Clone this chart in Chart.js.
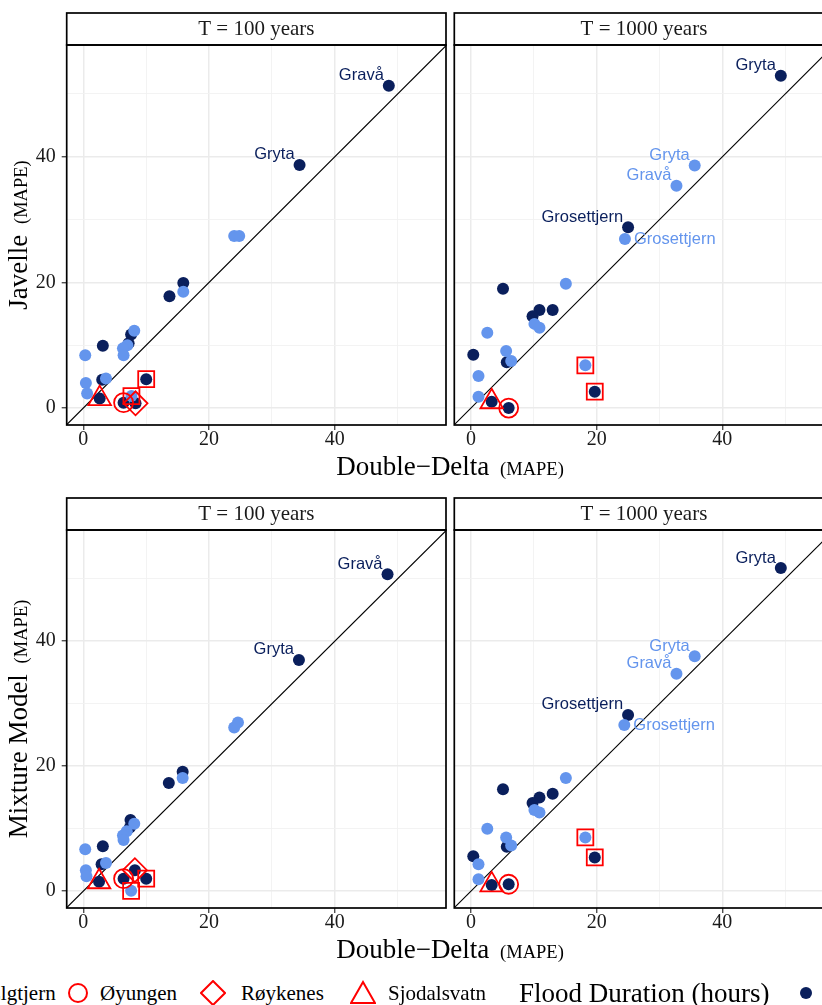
<!DOCTYPE html>
<html>
<head>
<meta charset="utf-8">
<script src="https://cdn.jsdelivr.net/npm/chart.js@4.4.0/dist/chart.umd.min.js"></script>
<style>
  body { margin: 0; width: 822px; height: 1005px; overflow: hidden; background: #fff; position: relative;
         font-family: "Liberation Serif", "Times New Roman", serif; color: #000; }
  canvas { position: absolute; }
  .xtitle { position: absolute; white-space: nowrap; font-size: 27px; line-height: 27px; transform: translateX(-50%); }
  .ytitle { position: absolute; white-space: nowrap; font-size: 27px; line-height: 27px; transform: translate(-50%, -50%) rotate(-90deg); }
  .small { font-size: 18.5px; margin-left: 4px; }
  .leg { position: absolute; white-space: nowrap; font-size: 21px; line-height: 30px; top: 978px; }
  .legsym { position: absolute; }
</style>
</head>
<body>
<canvas id="jav100" width="460" height="480" style="left:0;top:0"></canvas>
<canvas id="jav1000" width="400" height="480" style="left:446px;top:0"></canvas>
<canvas id="mix100" width="460" height="480" style="left:0;top:485px"></canvas>
<canvas id="mix1000" width="400" height="480" style="left:446px;top:485px"></canvas>

<div class="ytitle" style="left:20px;top:235px">Javelle <span class="small">(MAPE)</span></div>
<div class="ytitle" style="left:20px;top:719px">Mixture Model <span class="small">(MAPE)</span></div>
<div class="xtitle" style="left:450px;top:453px">Double−Delta <span class="small">(MAPE)</span></div>
<div class="xtitle" style="left:450px;top:936px">Double−Delta <span class="small">(MAPE)</span></div>
<div id="legend"></div>

<script>
const darkCol = '#0a1f5c';
const lightCol = '#6495ed';
const markRed = '#ff0000';

// x = Double-Delta MAPE, y = other method MAPE
const jav100Dark = [[48.6, 51.3], [34.4, 38.7], [15.9, 19.9], [13.7, 17.8], [7.6, 11.7], [7.2, 10.3],
  [3.1, 9.9], [3.0, 4.5], [2.6, 1.5], [6.4, 0.85], [8.3, 0.75], [10.0, 4.6]];
const jav100Light = [[24.0, 27.4], [24.8, 27.4], [15.9, 18.5], [8.1, 12.3], [7.0, 10.0], [6.3, 9.5],
  [6.4, 8.4], [0.3, 8.4], [0.4, 4.0], [0.6, 2.3], [3.6, 4.7], [7.65, 1.9]];
const jav100DarkNames = ['Gravå', 'Gryta'];
const jav100LightNames = [];

const jav1000Dark = [[49.3, 52.9], [25.0, 28.8], [5.1, 19.0], [10.9, 15.6], [13.0, 15.6], [9.8, 14.6],
  [0.37, 8.5], [5.7, 7.3], [3.3, 1.0], [6.0, 0.0], [19.7, 2.6]];
const jav1000Light = [[35.6, 38.6], [32.7, 35.4], [24.5, 26.9], [15.1, 19.8], [10.1, 13.4], [10.9, 12.8],
  [2.6, 12.0], [5.6, 9.1], [6.4, 7.5], [1.2, 5.1], [1.2, 1.8], [18.2, 6.8]];
const jav1000DarkNames = ['Gryta', 'Grosettjern'];
const jav1000LightNames = ['Gryta', 'Gravå', 'Grosettjern'];

const mix100Dark = [[48.4, 50.7], [34.3, 37.0], [15.8, 19.1], [13.6, 17.3], [7.5, 11.4], [7.4, 10.2],
  [3.1, 7.2], [2.9, 4.3], [2.5, 1.5], [6.4, 2.0], [8.2, 3.35], [10.0, 2.0]];
const mix100Light = [[24.0, 26.2], [24.6, 27.0], [15.8, 18.1], [8.1, 10.8], [6.9, 9.6], [6.3, 8.9],
  [6.4, 8.2], [0.3, 6.7], [0.4, 3.35], [0.5, 2.4], [3.6, 4.5], [7.6, 0.05]];
const mix100DarkNames = ['Gravå', 'Gryta'];
const mix100LightNames = [];

const mix1000Dark = [[49.3, 51.7], [25.0, 28.2], [5.1, 16.3], [10.9, 15.0], [13.0, 15.6], [9.8, 14.1],
  [0.37, 5.6], [5.7, 7.1], [3.3, 1.0], [6.0, 1.1], [19.7, 5.4]];
const mix1000Light = [[35.6, 37.6], [32.7, 34.8], [24.4, 26.6], [15.1, 18.1], [10.1, 13.0], [10.9, 12.6],
  [2.6, 10.0], [5.6, 8.6], [6.4, 7.3], [1.2, 4.3], [1.2, 1.9], [18.2, 8.6]];
const mix1000DarkNames = ['Gryta', 'Grosettjern'];
const mix1000LightNames = ['Gryta', 'Gravå', 'Grosettjern'];

// highlighted stations (red outline shapes)
const jav100Marks = { square: [[10.0, 4.6], [7.65, 1.9]], circle: [[6.4, 0.85]], diamond: [[8.3, 0.75]], triangle: [[2.6, 1.5]] };
const jav1000Marks = { square: [[18.2, 6.8], [19.7, 2.6]], circle: [[6.0, 0.0]], diamond: [], triangle: [[3.3, 1.0]] };
const mix100Marks = { square: [[10.0, 2.0], [7.6, 0.05]], circle: [[6.4, 2.0]], diamond: [[8.2, 3.35]], triangle: [[2.5, 1.5]] };
const mix1000Marks = { square: [[18.2, 8.6], [19.7, 5.4]], circle: [[6.0, 1.1]], diamond: [], triangle: [[3.3, 1.0]] };

const legendStations = ['Elgtjern', 'Øyungen', 'Røykenes', 'Sjodalsvatn'];

const axisMin = -2.65, axisMax = 57.7, yMin = -2.7, yMax = 57.8;

const toPts = arr => arr.map(([x, y]) => ({ x, y }));

const facetFrame = {
  id: 'facetFrame',
  afterDraw(chart, args, opts) {
    const { left, top, right, bottom } = chart.chartArea;
    const ctx = chart.ctx;
    ctx.save();
    ctx.lineWidth = 1.7;
    ctx.strokeStyle = '#000';
    ctx.fillStyle = '#fff';
    ctx.fillRect(left, top - 32, right - left, 32);
    ctx.strokeRect(left, top - 32, right - left, 32);
    ctx.strokeRect(left, top, right - left, bottom - top);
    ctx.fillStyle = '#1a1a1a';
    ctx.font = '21px "Liberation Serif"';
    ctx.textAlign = 'center';
    ctx.textBaseline = 'middle';
    ctx.fillText(opts.text, (left + right) / 2, top - 16);
    ctx.restore();
  }
};

const pointNames = {
  id: 'pointNames',
  afterDatasetsDraw(chart) {
    const ctx = chart.ctx;
    chart.data.datasets.forEach((ds, i) => {
      if (!ds.names) return;
      const meta = chart.getDatasetMeta(i);
      ctx.save();
      ctx.font = '16.5px "Liberation Sans", Arial, sans-serif';
      ctx.fillStyle = ds.backgroundColor;
      ds.names.forEach((name, j) => {
        const pt = meta.data[j];
        const right = ds.namesRight && ds.namesRight.includes(name);
        ctx.textAlign = right ? 'left' : 'right';
        ctx.fillText(name, right ? pt.x + 9 : pt.x - 5, right ? pt.y + 5 : pt.y - 5.5);
      });
      ctx.restore();
    });
  }
};

const gridColor = c => c.tick && c.tick.value % 20 === 0 ? '#ebebeb' : '#f2f2f2';
const gridWidth = c => c.tick && c.tick.value % 20 === 0 ? 1.5 : 0.9;
const tickColor = c => c.tick && c.tick.value % 20 === 0 ? '#333' : 'rgba(0,0,0,0)';
const tickFont = { family: 'Liberation Serif', size: 20 };

function makePanel(id, strip, dark, light, darkNames, lightNames, marks, isLeft, xHeight) {
  const markStyle = { backgroundColor: 'rgba(0,0,0,0)', borderColor: markRed, borderWidth: 1.8, showLine: false };
  new Chart(document.getElementById(id), {
    type: 'scatter',
    data: {
      datasets: [
        { label: 'square', data: toPts(marks.square), pointStyle: 'rect', pointRadius: 11.3, ...markStyle, order: 0 },
        { label: 'circle', data: toPts(marks.circle), pointStyle: 'circle', pointRadius: 9.5, ...markStyle, order: 1 },
        { label: 'diamond', data: toPts(marks.diamond), pointStyle: 'rectRot', pointRadius: 12, ...markStyle, order: 2 },
        { label: 'triangle', data: toPts(marks.triangle), pointStyle: 'triangle', pointRadius: 13, ...markStyle, order: 3 },
        { label: 'light', data: toPts(light), backgroundColor: lightCol, pointRadius: 6, borderWidth: 0,
          names: lightNames, namesRight: ['Grosettjern'], order: 5 },
        { label: 'dark', data: toPts(dark), backgroundColor: darkCol, pointRadius: 6, borderWidth: 0,
          names: darkNames, order: 6 },
        { type: 'line', label: '1:1', data: [{ x: -10, y: -10 }, { x: 70, y: 70 }], borderColor: '#000',
          borderWidth: 1.1, pointRadius: 0, order: 9 }
      ]
    },
    options: {
      responsive: false,
      animation: false,
      events: [],
      layout: { autoPadding: false, padding: { top: 45, left: isLeft ? 0 : 8.3, right: isLeft ? 14 : 12.4, bottom: 0 } },
      plugins: { legend: { display: false }, tooltip: { enabled: false }, facetFrame: { text: strip } },
      scales: {
        x: {
          type: 'linear', min: axisMin, max: axisMax,
          afterFit: s => { s.height = xHeight; s.paddingLeft = 0; s.paddingRight = 0; },
          border: { display: false },
          grid: { color: gridColor, lineWidth: gridWidth, tickLength: 5, tickColor: tickColor, tickWidth: 1.2 },
          ticks: { stepSize: 10, includeBounds: false, autoSkip: false, maxRotation: 0, color: '#1a1a1a',
                   font: tickFont, padding: -2, callback: v => v % 20 === 0 ? String(v) : '' }
        },
        y: {
          type: 'linear', min: yMin, max: yMax,
          afterFit: s => { s.width = isLeft ? 66.7 : 0; s.paddingTop = 0; s.paddingBottom = 0; },
          border: { display: false },
          grid: { color: gridColor, lineWidth: gridWidth, tickLength: 5, tickColor: tickColor, tickWidth: 1.2,
                  drawTicks: isLeft },
          ticks: { display: isLeft, stepSize: 10, includeBounds: false, autoSkip: false, color: '#1a1a1a',
                   font: tickFont, padding: 6, callback: v => v % 20 === 0 ? String(v) : '' }
        }
      }
    },
    plugins: [pointNames, facetFrame]
  });
}

makePanel('jav100', 'T = 100 years', jav100Dark, jav100Light, jav100DarkNames, jav100LightNames, jav100Marks, true, 55);
makePanel('jav1000', 'T = 1000 years', jav1000Dark, jav1000Light, jav1000DarkNames, jav1000LightNames, jav1000Marks, false, 55);
makePanel('mix100', 'T = 100 years', mix100Dark, mix100Light, mix100DarkNames, mix100LightNames, mix100Marks, true, 57);
makePanel('mix1000', 'T = 1000 years', mix1000Dark, mix1000Light, mix1000DarkNames, mix1000LightNames, mix1000Marks, false, 57);

// legend along the bottom
const legendShapes = [
  '<rect x="3" y="3" width="18" height="18" fill="none" stroke="#f00" stroke-width="2"/>',
  '<circle cx="12" cy="12" r="9" fill="none" stroke="#f00" stroke-width="2"/>',
  '<path d="M12 0 L24 12 L12 24 L0 12 Z" fill="none" stroke="#f00" stroke-width="2"/>',
  '<path d="M12 1 L24 22 L0 22 Z" fill="none" stroke="#f00" stroke-width="2"/>'
];
const legendSymX = [-36, 65, 200, 350];
const legendTextX = [-12, 100, 241, 388];
const legend = document.getElementById('legend');
let html = '';
legendStations.forEach((name, i) => {
  html += `<svg class="legsym" width="26" height="26" viewBox="-1 -1 26 26" style="left:${legendSymX[i]}px;top:980px">${legendShapes[i]}</svg>`;
  html += `<div class="leg" style="left:${legendTextX[i]}px">${name}</div>`;
});
html += '<div class="leg" style="left:519px;font-size:27px">Flood Duration (hours)</div>';
html += `<svg class="legsym" width="14" height="14" style="left:799px;top:986px"><circle cx="7" cy="7" r="6" fill="${darkCol}"/></svg>`;
legend.innerHTML = html;
</script>
</body>
</html>
